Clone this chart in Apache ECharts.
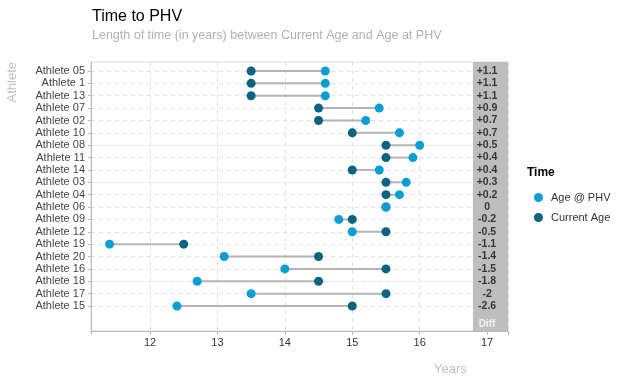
<!DOCTYPE html>
<html>
<head>
<meta charset="utf-8">
<script src="https://cdn.jsdelivr.net/npm/echarts@6/dist/echarts.min.js"></script>
<style>html,body{margin:0;padding:0;background:#fff}#c{width:624px;height:385px}</style>
</head>
<body>
<div id="c"></div>
<script>
const athletes = ['Athlete 05','Athlete 1','Athlete 13','Athlete 07','Athlete 02','Athlete 10','Athlete 08','Athlete 11','Athlete 14','Athlete 03','Athlete 04','Athlete 06','Athlete 09','Athlete 12','Athlete 19','Athlete 20','Athlete 16','Athlete 18','Athlete 17','Athlete 15'];
const currentAge = [13.5,13.5,13.5,14.5,14.5,15.0,15.5,15.5,15.0,15.5,15.5,15.5,15.0,15.5,12.5,14.5,15.5,14.5,15.5,15.0];
const phvAge = [14.6,14.6,14.6,15.4,15.2,15.7,16.0,15.9,15.4,15.8,15.7,15.5,14.8,15.0,11.4,13.1,14.0,12.7,13.5,12.4];
const diffLabels = ['+1.1','+1.1','+1.1','+0.9','+0.7','+0.7','+0.5','+0.4','+0.4','+0.3','+0.2','0','-0.2','-0.5','-1.1','-1.4','-1.5','-1.8','-2','-2.6'];
const xTicks = [12,13,14,15,16,17];
const diffColumnX = 17;

const X_MIN = 11.125, X_MAX = 17.31;
const DARK = '#0b6384', LIGHT = '#0a9fd3';
const fontFam = 'Liberation Sans, Arial, sans-serif';

const chart = echarts.init(document.getElementById('c'), null, {renderer: 'canvas'});
const option = {
  animation: false,
  backgroundColor: '#fff',
  textStyle: {fontFamily: fontFam},
  title: {
    text: 'Time to PHV',
    subtext: 'Length of time (in years) between Current Age and Age at PHV',
    left: 87, top: 4, itemGap: 4,
    textStyle: {fontSize: 16, fontWeight: 'normal', color: '#000', fontFamily: fontFam},
    subtextStyle: {fontSize: 12.5, color: '#b0b0b0', fontFamily: fontFam}
  },
  legend: {
    orient: 'vertical', left: 529, top: 187,
    data: ['Age @ PHV', 'Current Age'],
    icon: 'circle', itemWidth: 9, itemHeight: 9, itemGap: 9,
    textStyle: {fontSize: 11, color: '#333', fontFamily: fontFam, padding: [0, 0, 0, 3]}
  },
  graphic: [
    {type: 'text', left: 527, top: 167, style: {text: 'Time', font: 'bold 12px ' + fontFam, fill: '#000'}},
    {type: 'text', left: 434, top: 363, style: {text: 'Years', font: '13px ' + fontFam, fill: '#c0c0c0'}},
    {type: 'text', left: 6, top: 62, rotation: Math.PI/2, style: {text: 'Athlete', font: '13px ' + fontFam, fill: '#c0c0c0'}}
  ],
  grid: [
    {left: 91, right: 116, top: 62, bottom: 54, show: true, borderColor: '#dcdcdc', borderWidth: 1, backgroundColor: 'transparent'},
    {left: 91, right: 116, top: 71, bottom: 79}
  ],
  xAxis: [
    {type: 'value', gridIndex: 0, min: X_MIN, max: X_MAX, splitNumber: 6,
     axisLine: {show: true, onZero: false, lineStyle: {color: '#b8b8b8', width: 1}},
     axisTick: {show: true, length: 4, lineStyle: {color: '#b8b8b8'}},
     axisLabel: {color: '#333', fontSize: 11, margin: 6,
       formatter: v => xTicks.indexOf(v) >= 0 ? String(v) : ''},
     splitLine: {show: true, lineStyle: {color: '#dedede', type: [4, 4], width: 1}}},
    {type: 'value', gridIndex: 1, min: X_MIN, max: X_MAX, show: false,
     axisLine: {onZero: false}}
  ],
  yAxis: [
    {type: 'value', gridIndex: 0, inverse: true, min: -0.73, max: 21.02,
     axisLine: {show: true, onZero: false, lineStyle: {color: '#b8b8b8'}},
     axisTick: {show: false}, axisLabel: {show: false}, splitLine: {show: false}},
    {type: 'category', gridIndex: 1, inverse: true, boundaryGap: false, data: athletes,
     axisLine: {show: false, onZero: false},
     axisTick: {show: true, length: 3, lineStyle: {color: '#b8b8b8'}},
     axisLabel: {color: '#444', fontSize: 11, margin: 6, interval: 0},
     splitLine: {show: true, interval: 0, lineStyle: {color: '#dedede', type: [4, 4], width: 1}}}
  ],
  series: [
    {type: 'scatter', name: 'panel', xAxisIndex: 0, yAxisIndex: 0, z: 1, silent: true,
     data: [[diffColumnX, 20.45]], symbolSize: 0,
     label: {show: true, position: 'inside', formatter: 'Diff', color: '#fff', fontWeight: 'bold', fontSize: 10},
     markArea: {silent: true, itemStyle: {color: '#bebebe', opacity: 1},
       data: [[{xAxis: 16.79}, {xAxis: X_MAX}]]}},
    {type: 'custom', name: 'seg', xAxisIndex: 1, yAxisIndex: 1, z: 2, clip: false,
     data: athletes.map((n, i) => [currentAge[i], phvAge[i], i]),
     encode: {x: [0, 1], y: 2},
     renderItem: function (params, api) {
       const a = api.coord([api.value(0), api.value(2)]);
       const b = api.coord([api.value(1), api.value(2)]);
       return {type: 'line', shape: {x1: a[0], y1: a[1], x2: b[0], y2: b[1]},
         style: {stroke: '#b4b4b4', lineWidth: 2}};
     }},
    {type: 'scatter', name: 'Current Age', xAxisIndex: 1, yAxisIndex: 1, z: 3,
     symbolSize: 9, itemStyle: {color: DARK, opacity: 1},
     data: athletes.map((n, i) => [currentAge[i], n])},
    {type: 'scatter', name: 'Age @ PHV', xAxisIndex: 1, yAxisIndex: 1, z: 4,
     symbolSize: 9, itemStyle: {color: LIGHT, opacity: 1},
     data: athletes.map((n, i) => [phvAge[i], n])},
    {type: 'scatter', name: 'diff', xAxisIndex: 1, yAxisIndex: 1, z: 5, silent: true,
     symbolSize: 0,
     data: athletes.map((n, i) => [diffColumnX, n]),
     label: {show: true, position: 'inside', color: '#111', fontWeight: 'bold', fontSize: 10.5,
       formatter: p => diffLabels[p.dataIndex]}}
  ]
};
chart.setOption(option);
</script>
</body>
</html>
